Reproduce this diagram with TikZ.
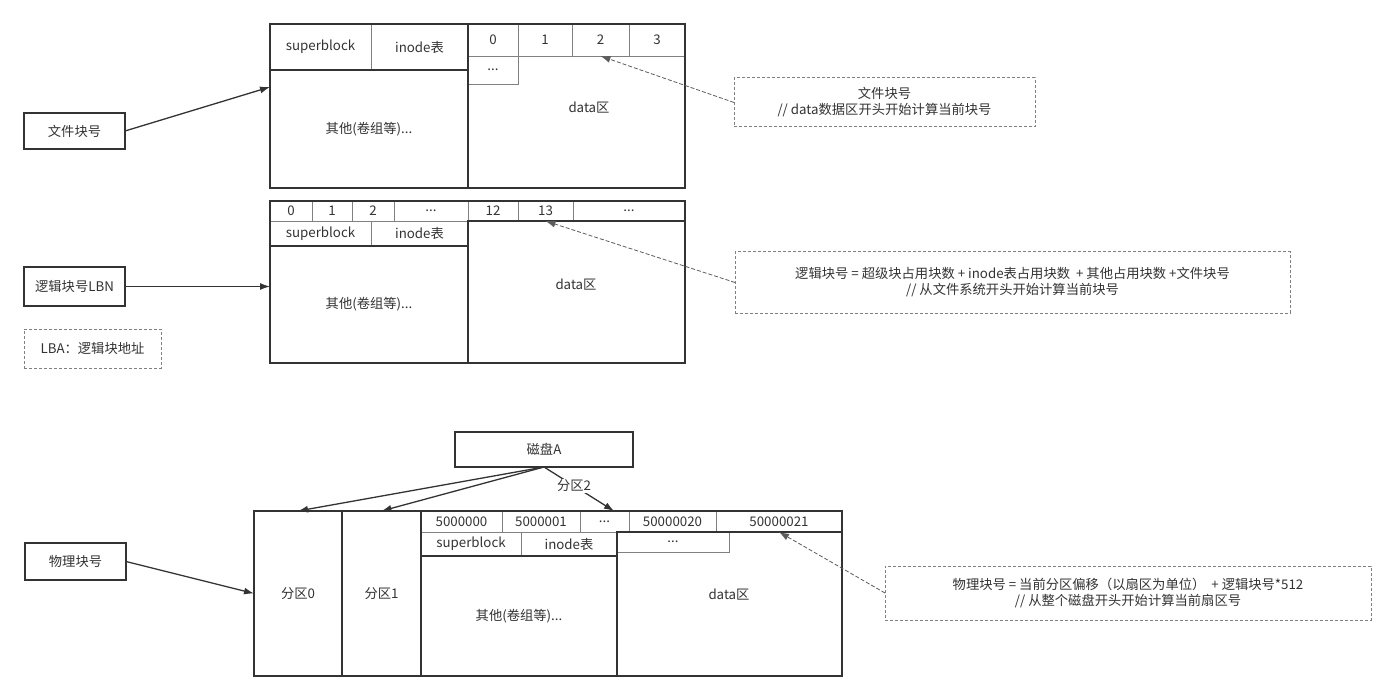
\documentclass[tikz,border=0pt]{standalone}
\usepackage{fontspec}
\setmainfont{Noto Sans CJK SC}
\usetikzlibrary{arrows.meta}
\definecolor{dk}{HTML}{333333}
\definecolor{gr}{HTML}{808080}
\definecolor{txt}{HTML}{333333}
\begin{document}
\begin{tikzpicture}[x=1pt,y=-1pt,
  every node/.style={font=\fontsize{13.3}{16}\selectfont, text=txt},
  sz/.style 2 args={minimum width=#1pt, minimum height=#2pt},
  cell/.style={draw=gr, line width=0.9pt, inner sep=0pt, outer sep=0pt, anchor=north west},
  frame/.style={draw=dk, line width=1.4pt, inner sep=0pt, outer sep=0pt, anchor=north west},
  lbl/.style={inner sep=1pt},
  note/.style={draw=gr, line width=1pt, dash pattern=on 3pt off 2pt, inner sep=0pt, outer sep=0pt, anchor=north west, align=center},
  arr/.style={draw=dk, line width=1.3pt, -{Latex[length=10pt,width=7pt]}},
  darr/.style={draw=dk!80, line width=0.8pt, dash pattern=on 4pt off 2pt, -{Latex[length=10pt,width=7pt]}}]
\fill[white] (0,0) rectangle (1396,700);
\useasboundingbox (0,0) rectangle (1396,700);

% ===== top: file block numbers =====
\node[cell,sz={101}{46}] (sbA) at (270,24) {superblock};
\node[cell,sz={97}{46}] (inA) at (371,24) {inode表};
\node[cell,sz={50}{32}] (a0) at (468,24) {0};
\node[cell,sz={54}{32}] (a1) at (518,24) {1};
\node[cell,sz={57}{32}] (a2) at (572,24) {2};
\node[cell,sz={56}{32}] (a3) at (629,24) {3};
\node[cell,sz={50}{28}] (adots) at (468,56) {...};
\node[frame,sz={198}{118}] (othA) at (270,70) {其他(卷组等)...};
\node[frame,sz={217}{164}] (dataA) at (468,24) {};
\node[lbl] (dataAl) at (589,108) {data区};
\node[frame,sz={415}{164}] (fsA) at (270,24) {};

\node[frame,sz={101}{36}] (fA) at (24,113) {文件块号};
\coordinate (tA) at (270,87);
\draw[arr] (fA.east) -- (tA);

\node[note,sz={301}{49}] (nA) at (734,78) {文件块号\\// data数据区开头开始计算当前块号};
\draw[darr] (nA.west) -- (a2.south);

% ===== middle: logical block numbers =====
\node[cell,sz={42}{20}] (b0) at (270,201) {0};
\node[cell,sz={40}{20}] (b1) at (312,201) {1};
\node[cell,sz={42}{20}] (b2) at (352,201) {2};
\node[cell,sz={74}{20}] (bdots) at (394,201) {...};
\node[cell,sz={50}{20}] (b12) at (468,201) {12};
\node[cell,sz={55}{20}] (b13) at (518,201) {13};
\node[cell,sz={112}{20}] (bdots2) at (573,201) {...};
\node[cell,sz={101}{25}] (sbB) at (270,221) {superblock};
\node[cell,sz={97}{25}] (inB) at (371,221) {inode表};
\node[frame,sz={198}{117}] (othB) at (270,246) {其他(卷组等)...};
\node[frame,sz={217}{142}] (dataB) at (468,221) {};
\node[lbl] (dataBl) at (576,285) {data区};
\node[frame,sz={415}{162}] (fsB) at (270,201) {};

\node[frame,sz={101}{39}] (lbn) at (24,267) {逻辑块号LBN};
\draw[arr] (lbn.east) -- (lbn.east -| fsB.west);
\node[note,sz={137}{39}] (lba) at (24,329) {LBA：逻辑块地址};

\node[note,sz={555}{61}] (nB) at (735,252) {逻辑块号 = 超级块占用块数 + inode表占用块数 \ + 其他占用块数 +文件块号\\// 从文件系统开头开始计算当前块号};
\draw[darr] (nB.west) -- (b13.south);

% ===== bottom: physical block numbers =====
\node[frame,sz={178}{35}] (disk) at (455,432) {磁盘A};

\node[cell,sz={81}{21}] (c0) at (421,511) {5000000};
\node[cell,sz={78}{21}] (c1) at (502,511) {5000001};
\node[cell,sz={49}{21}] (cdots) at (580,511) {...};
\node[cell,sz={87}{21}] (c20) at (629,511) {50000020};
\node[cell,sz={126}{21}] (c21) at (716,511) {50000021};
\node[cell,sz={100}{24}] (sbC) at (421,532) {superblock};
\node[cell,sz={96}{24}] (inC) at (521,532) {inode表};
\node[cell,sz={112}{20}] (cdots2) at (617,532) {...};
\node[frame,sz={196}{120}] (othC) at (421,556) {其他(卷组等)...};
\node[frame,sz={225}{144}] (dataC) at (617,532) {};
\node[lbl] (dataCl) at (729,595) {data区};
\node[frame,sz={421}{165}] (p2) at (421,511) {};
\node[frame,sz={88}{165}] (p0) at (254,511) {分区0};
\node[frame,sz={79}{165}] (p1) at (342,511) {分区1};

\coordinate (tP2) at (614,511);
\draw[arr] (disk.south) -- (p0.north);
\draw[arr] (disk.south) -- (p1.north);
\draw[arr] (disk.south) -- node[pos=0.43, fill=white, inner sep=1pt] {分区2} (tP2);

\node[frame,sz={101}{37}] (phy) at (25,543) {物理块号};
\draw[arr] (phy.east) -- (p0.west);

\node[note,sz={486}{54}] (nC) at (885,566) {物理块号 = 当前分区偏移（以扇区为单位） \ + 逻辑块号*512\\// 从整个磁盘开头开始计算当前扇区号};
\draw[darr] (nC.west) -- (c21.south);
\end{tikzpicture}
\end{document}
